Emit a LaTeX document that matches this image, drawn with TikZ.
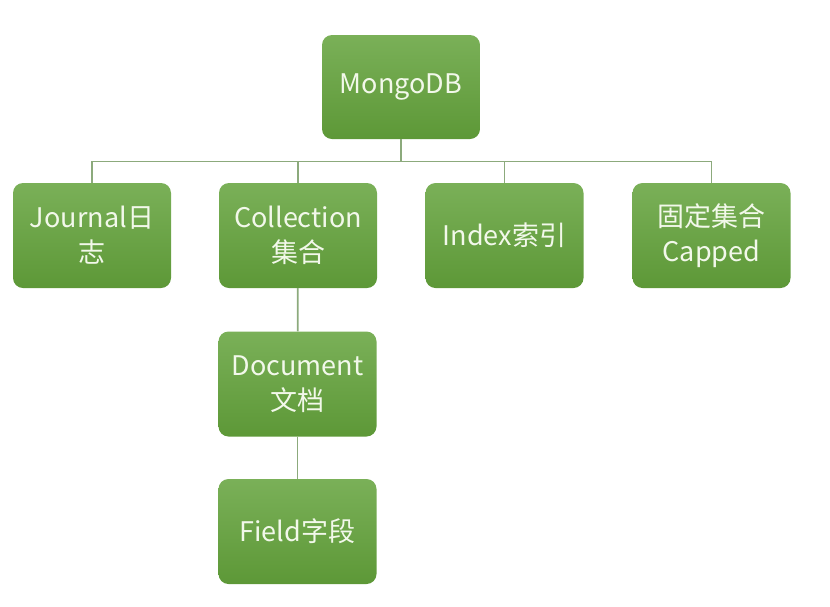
\documentclass[tikz,border=0pt]{standalone}
\usepackage{fontspec}
\setmainfont{Noto Sans CJK SC}
\definecolor{boxtop}{RGB}{122,176,88}
\definecolor{boxbottom}{RGB}{93,152,55}
\definecolor{linkgreen}{RGB}{140,170,124}
\definecolor{textcream}{RGB}{242,248,234}

\begin{document}
\begin{tikzpicture}[x=1pt,y=-1pt,
	green box/.style={rounded corners=10pt,top color=boxtop,bottom color=boxbottom,
		minimum width=158pt,minimum height=105pt,inner sep=0pt,align=center,
		text=textcream,font=\fontsize{27}{35}\selectfont},
	tree link/.style={draw=linkgreen,line width=1.8pt}]
	\useasboundingbox (0,0) rectangle (830,606);
	\node[green box,minimum height=104pt] (mongo) at (401,87) {MongoDB};
	\node[green box] (journal) at (92,235.5) {Journal日\\志};
	\node[green box] (collection) at (298,235.5) {Collection\\集合};
	\node[green box] (index) at (504.5,235.5) {Index索引};
	\node[green box] (capped) at (711.5,235.5) {固定集合\\Capped};
	\node[green box] (document) at (297.5,384) {Document\\文档};
	\node[green box] (field) at (297.5,531.5) {Field字段};
	\coordinate (bus) at (401,161.5);
	\draw[tree link] (mongo.south) -- (bus);
	\foreach \child in {journal,collection,index,capped}
		\draw[tree link] (bus) -| (\child.north);
	\draw[tree link] (collection) -- (document);
	\draw[tree link] (document) -- (field);
\end{tikzpicture}
\end{document}
